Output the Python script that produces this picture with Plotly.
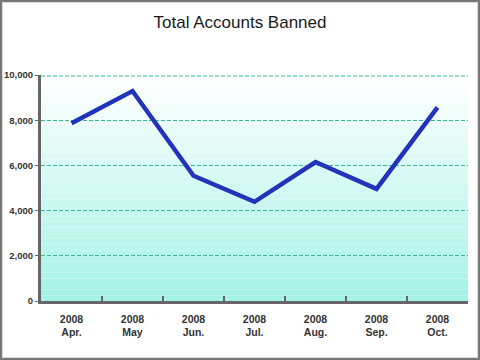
import plotly.graph_objects as go

months = ["2008<br>Apr.", "2008<br>May", "2008<br>Jun.", "2008<br>Jul.", "2008<br>Aug.", "2008<br>Sep.", "2008<br>Oct."]
banned = [7870, 9290, 5540, 4390, 6150, 4960, 8570]
y_ticks = [0, 2000, 4000, 6000, 8000, 10000]
y_labels = ["0", "2,000", "4,000", "6,000", "8,000", "10,000"]

ml, mr, mt, mb = 41, 12, 75, 59
W, H = 480, 360
pw, ph = W - ml - mr, H - mt - mb

shapes = []
n = 40
for i in range(n):
    f = i / (n - 1)
    r = round(255 + (165 - 255) * f)
    g = round(255 + (242 - 255) * f)
    b = round(255 + (230 - 255) * f)
    shapes.append(dict(type="rect", xref="paper", yref="paper", x0=0, x1=1,
                       y0=1 - (i + 1) / n, y1=1 - i / n, line=dict(width=0),
                       fillcolor=f"rgb({r},{g},{b})", layer="below"))
shapes.append(dict(type="line", xref="paper", yref="paper", x0=0, x1=1,
                   y0=1 - 1 / ph, y1=1 - 1 / ph,
                   line=dict(color="#33bb99", width=1, dash="4px,2px"), layer="above"))
shapes.append(dict(type="rect", xref="paper", yref="paper",
                   x0=-(ml - 1) / pw, x1=1 + (mr - 1) / pw,
                   y0=-(mb - 1) / ph, y1=1 + (mt - 1) / ph,
                   line=dict(color="#777777", width=2.5)))

fig = go.Figure(go.Scatter(x=months, y=banned, mode="lines",
                           line=dict(color="#2233bb", width=4.5)))
fig.update_layout(
    width=W, height=H, margin=dict(l=ml, r=mr, t=mt, b=mb, autoexpand=False),
    paper_bgcolor="white", plot_bgcolor="rgba(0,0,0,0)",
    showlegend=False, shapes=shapes,
    title=dict(text="Total Accounts Banned", x=0.5, xanchor="center",
               y=1 - 22 / H, yanchor="middle",
               font=dict(family="Liberation Sans, Arial", size=17, color="#1a1a1a")),
    font=dict(family="Liberation Sans, Arial", color="#333333"),
)
fig.update_xaxes(type="category", range=[-0.5, 6.5], automargin=False,
                 showgrid=False, showline=True, linecolor="#666666", linewidth=3,
                 ticks="inside", tickson="boundaries", ticklen=5, tickcolor="#666666",
                 tickwidth=2, ticklabelstandoff=6,
                 tickfont=dict(size=10.5, weight="bold", color="#333333"),
                 fixedrange=True)
fig.update_yaxes(range=[0, 10000], tickvals=y_ticks, ticktext=y_labels, automargin=False,
                 showgrid=True, gridcolor="#33bb99", griddash="4px,2px", gridwidth=1,
                 showline=True, linecolor="#666666", linewidth=3,
                 ticks="outside", ticklen=3, tickcolor="#666666",
                 tickfont=dict(size=9.5, weight="bold", color="#333333"),
                 zeroline=False, fixedrange=True)
fig.write_html("out.html", config={"displayModeBar": False},
               post_script="document.body.style.margin='0';")
